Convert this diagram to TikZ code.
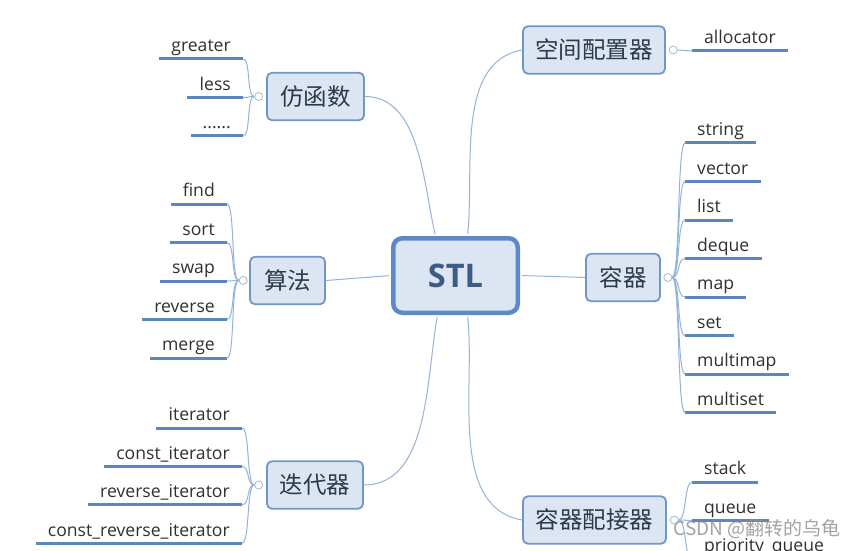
\documentclass[tikz,border=0pt]{standalone}
\usepackage{fontspec}
\setmainfont{Open Sans}
\newfontfamily\cjk{Noto Sans CJK SC}
\usetikzlibrary{positioning}
\definecolor{topicfill}{HTML}{DCE6F2}
\definecolor{topicline}{HTML}{7097C8}
\definecolor{rootline}{HTML}{5B8AC6}
\definecolor{roottext}{HTML}{3D5C84}
\definecolor{topictext}{HTML}{2C3A4C}
\definecolor{leaftext}{HTML}{303030}
\definecolor{ulblue}{HTML}{5C87BE}
\definecolor{twigblue}{HTML}{94B3D7}
\definecolor{knobline}{HTML}{A3BAD4}
\definecolor{wmgray}{HTML}{8C8C8C}
\newcommand{\sixdots}{......}

\begin{document}
\begin{tikzpicture}[x=1pt, y=1pt,
  root/.style={draw=rootline, fill=topicfill, line width=4.5pt, rounded corners=9pt,
    minimum width=124.5pt, minimum height=74.5pt, text=roottext,
    font=\fontsize{32.5}{36}\selectfont\bfseries},
  topic/.style={draw=topicline, fill=topicfill, line width=1.8pt, rounded corners=5pt,
    minimum height=47.5pt, inner xsep=0pt, text=topictext,
    font=\cjk\fontsize{23.5}{27}\selectfont},
  knob/.style={circle, draw=knobline, fill=white, line width=0.8pt, minimum size=8pt, inner sep=0pt},
  leaf/.style={inner xsep=12pt, inner ysep=0pt, text height=13pt, text depth=7pt,
    text=leaftext, font=\fontsize{17.6}{20}\selectfont},
  uline/.style={ulblue, line width=3pt},
  twig/.style={twigblue, line width=1pt},
  branch/.style={twigblue, line width=1pt}]

% Canvas
\useasboundingbox (0,0) rectangle (859,550);
\fill[white] (0,0) rectangle (859,550);
\clip (0,0) rectangle (859,550);

% Root and topics
\node[root] (stl) at (455.5,274.5) {STL};
\node[topic, minimum width=142pt] (kong) at (594,500) {空间配置器};
\node[topic, minimum width=97pt] (fang) at (315.5,453.5) {仿函数};
\node[topic, minimum width=75pt] (suan) at (287.5,269.5) {算法};
\node[topic, minimum width=96pt] (die) at (315,65) {迭代器};
\node[topic, minimum width=74pt] (rong) at (623,272.5) {容器};
\node[topic, minimum width=143pt] (pei) at (594.5,30) {容器配接器};

% Knobs
\node[knob, left=3pt of fang] (kFang) {};
\node[knob, left=1.5pt of suan] (kSuan) {};
\node[knob, left=3pt of die] (kDie) {};
\node[knob, right=2.5pt of rong] (kRong) {};
\node[knob, right=3pt of kong] (kKong) {};
\node[knob, right=3pt of pei] (kPei) {};

% Root to topics
\draw[branch, shorten <=2pt] ([xshift=-20pt]stl.north) to[out=103, in=0, looseness=0.9] (fang.east);
\draw[branch, shorten <=2pt] ([xshift=12pt]stl.north) to[out=84, in=190, looseness=0.9] (kong.west);
\draw[branch, shorten <=2pt] (stl.west) -- (suan.east);
\draw[branch, shorten <=2pt] (stl.east) -- (rong.west);
\draw[branch, shorten <=2pt] ([xshift=-18pt]stl.south) to[out=-100, in=0, looseness=0.9] (die.east);
\draw[branch, shorten <=2pt] ([xshift=12pt]stl.south) to[out=-84, in=170, looseness=0.9] (pei.west);

% Functors
\foreach \t [count=\i from 0] in {greater, less, \sixdots} {
  \node[leaf, anchor=south east] (f\i) at (243, {491-38.5*\i}) {\t};
  \draw[uline] (f\i.south west) -- (f\i.south east);
  \draw[twig] (kFang.west) to[out=180, in=0, distance=8pt] (f\i.south east);
}

% Algorithms
\foreach \t [count=\i from 0] in {find, sort, swap, reverse, merge} {
  \node[leaf, anchor=south east] (a\i) at (227, {346-38.5*\i}) {\t};
  \draw[uline] (a\i.south west) -- (a\i.south east);
  \draw[twig] (kSuan.west) to[out=180, in=0, distance=8pt] (a\i.south east);
}

% Iterators
\foreach \t [count=\i from 0] in {iterator, const\_iterator, reverse\_iterator, const\_reverse\_iterator} {
  \node[leaf, anchor=south east] (d\i) at (242, {122-38.4*\i}) {\t};
  \draw[uline] (d\i.south west) -- (d\i.south east);
  \draw[twig] (kDie.west) to[out=180, in=0, distance=8pt] (d\i.south east);
}

% Allocator
\node[leaf, anchor=south west] (al) at (692,499) {allocator};
\draw[uline] (al.south west) -- (al.south east);
\draw[twig] (kKong.east) -- (al.south west);

% Containers
\foreach \t [count=\i from 0] in {string, vector, list, deque, map, set, multimap, multiset} {
  \node[leaf, anchor=south west] (r\i) at (685, {407-38.5*\i}) {\t};
  \draw[uline] (r\i.south west) -- (r\i.south east);
  \draw[twig] (kRong.east) to[out=0, in=180, distance=8pt] (r\i.south west);
}

% Adapters
\foreach \t [count=\i from 0] in {stack, queue, priority\_queue} {
  \node[leaf, anchor=south west] (p\i) at (692, {68-38.5*\i}) {\t};
  \draw[uline] (p\i.south west) -- (p\i.south east);
  \draw[twig] (kPei.east) to[out=0, in=180, distance=8pt] (p\i.south west);
}

% Watermark
\node[text=wmgray, opacity=0.8, font=\cjk\fontsize{19}{22}\selectfont] (wm) at (757,21) {CSDN @翻转的乌龟};

\end{tikzpicture}
\end{document}
